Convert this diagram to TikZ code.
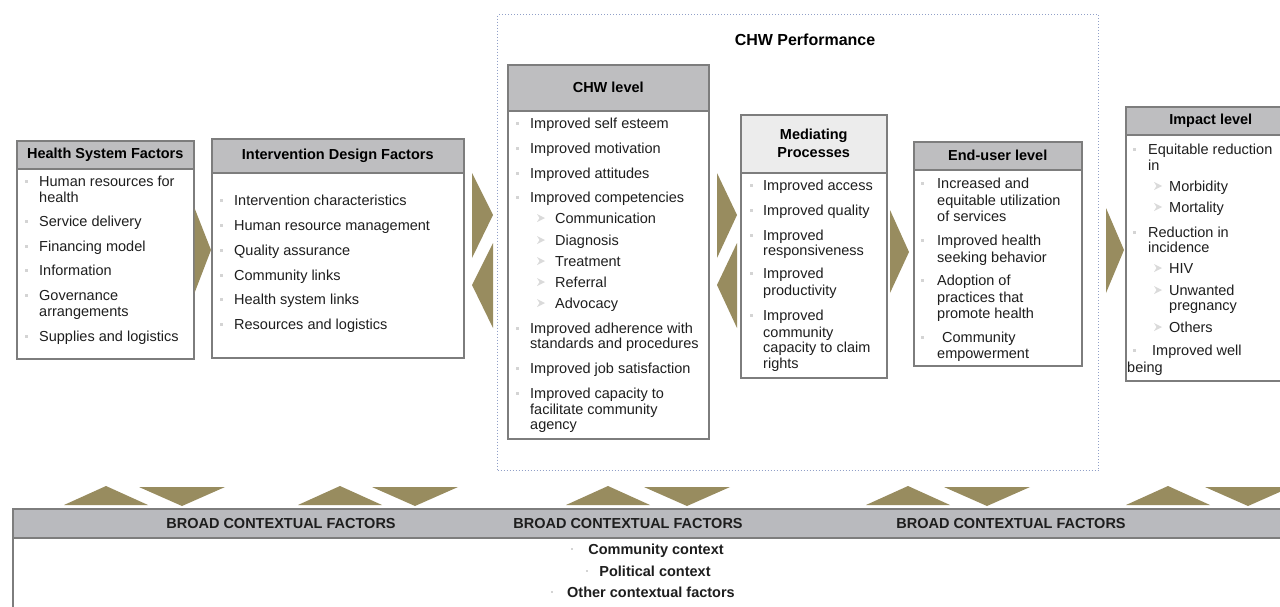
\documentclass[tikz,border=0pt]{standalone}
\usepackage{fontspec}
\setmainfont{Liberation Sans}
\definecolor{chevgold}{RGB}{152,140,95}
\definecolor{headgrey}{RGB}{190,190,192}
\definecolor{paleheadgrey}{RGB}{236,236,236}
\definecolor{bandgrey}{RGB}{185,186,190}
\definecolor{framegrey}{RGB}{125,125,125}
\definecolor{dotgrey}{RGB}{212,212,212}
\definecolor{perfblue}{RGB}{145,160,200}
\definecolor{txtgrey}{RGB}{30,30,30}
\newcommand\bodyfont{\fontsize{14.5}{17}\selectfont}

\tikzset{
  panel/.style={draw=framegrey, line width=1.5pt, fill=white, anchor=north west, inner sep=0pt},
  head/.style={panel, fill=headgrey, font=\bodyfont\bfseries, text=black},
  itemtxt/.style={anchor=base west, yshift=-5pt, inner sep=0pt, font=\bodyfont, text=txtgrey},
  ctxtxt/.style={anchor=base, yshift=-5pt, inner sep=0pt, font=\bodyfont\bfseries, text=txtgrey},
  bul/.style={fill=dotgrey, minimum size=3pt, inner sep=0pt},
  subbul/.style={fill=dotgrey!85},
  chev/.style={fill=chevgold},
}

\begin{document}
\begin{tikzpicture}[x=1pt, y=-1pt]
\useasboundingbox (0,0) rectangle (1280,606);
\clip (0,0) rectangle (1280,606);
\fill[white] (0,0) rectangle (1280,606);

\node[draw=perfblue, dotted, line width=1pt, anchor=north west, inner sep=0pt,
  minimum width=601, minimum height=456] (perfbox) at (497,14) {};
\node[font=\fontsize{16}{18}\selectfont\bfseries, inner sep=0pt] (perf) at (805,40) {CHW Performance};

\node[panel, minimum width=177, minimum height=218] (hsf) at (16,140) {};
\node[head, minimum width=177, minimum height=28] (hsfh) at (16,140) {Health System Factors};
\foreach \y/\t [count=\i] in {181/Human resources for, 197/health, 221/Service delivery,
  246/Financing model, 270/Information, 295/Governance, 311/arrangements, 336/Supplies and logistics}
  \node[itemtxt] (hsf-\i) at (39,\y) {\t};
\foreach \y in {181,221,246,270,295,336}
  \node[bul] (hsfb-\y) at (26,\y) {};

\node[panel, minimum width=252, minimum height=219] (idf) at (211,138) {};
\node[head, minimum width=252, minimum height=34] (idfh) at (211,138) {Intervention Design Factors};
\foreach \y/\t [count=\i] in {200/Intervention characteristics, 225/Human resource management,
  250/Quality assurance, 275/Community links, 299/Health system links, 324/Resources and logistics}
  \node[itemtxt] (idf-\i) at (234,\y) {\t};
\foreach \y in {200,225,250,275,299,324}
  \node[bul] (idfb-\y) at (221,\y) {};

\node[panel, minimum width=201, minimum height=374] (chw) at (507,64) {};
\node[head, minimum width=201, minimum height=46] (chwh) at (507,64) {CHW level};
\foreach \y/\t [count=\i] in {123/Improved self esteem, 148/Improved motivation, 173/Improved attitudes,
  197/Improved competencies, 328/Improved adherence with, 343/standards and procedures,
  368/Improved job satisfaction, 393/Improved capacity to, 409/facilitate community, 424/agency}
  \node[itemtxt] (chw-\i) at (530,\y) {\t};
\foreach \y/\t [count=\i] in {218/Communication, 240/Diagnosis, 261/Treatment, 282/Referral, 303/Advocacy}
  \node[itemtxt] (chws-\i) at (555,\y) {\t};
\foreach \y in {123,148,173,197,328,368,393}
  \node[bul] (chwb-\y) at (517,\y) {};
\foreach \y in {218,240,261,282,303}
  \fill[subbul] (537,\y-4) -- (545,\y) -- (537,\y+4) -- (539.5,\y) -- cycle;

\node[panel, minimum width=146, minimum height=263] (med) at (740,114) {};
\node[head, fill=paleheadgrey, align=center, font=\fontsize{14.5}{18}\selectfont\bfseries,
  minimum width=146, minimum height=58] (medh) at (740,114) {Mediating\\Processes};
\foreach \y/\t [count=\i] in {185/Improved access, 210/Improved quality, 235/Improved, 250/responsiveness,
  273/Improved, 290/productivity, 315/Improved, 332/community, 347/capacity to claim, 363/rights}
  \node[itemtxt] (med-\i) at (763,\y) {\t};
\foreach \y in {185,210,235,273,315}
  \node[bul] (medb-\y) at (751,\y) {};

\node[panel, minimum width=168, minimum height=224] (end) at (913,141) {};
\node[head, minimum width=168, minimum height=28] (endh) at (913,141) {End-user level};
\foreach \x/\y/\t [count=\i] in {937/183/Increased and, 937/200/equitable utilization, 937/216/of services,
  937/240/Improved health, 937/257/seeking behavior, 937/280/Adoption of, 937/297/practices that,
  937/313/promote health, 942/337/Community, 937/353/empowerment}
  \node[itemtxt] (end-\i) at (\x,\y) {\t};
\foreach \y in {183,240,280,337}
  \node[bul] (endb-\y) at (922,\y) {};

\node[panel, minimum width=170, minimum height=274] (imp) at (1125,106) {};
\node[head, minimum width=170, minimum height=28] (imph) at (1125,106) {Impact level};
\foreach \x/\y/\t [count=\i] in {1148/149/Equitable reduction, 1148/165/in, 1148/232/Reduction in,
  1148/247/incidence, 1152/350/Improved well, 1127/367/being}
  \node[itemtxt] (imp-\i) at (\x,\y) {\t};
\foreach \y/\t [count=\i] in {186/Morbidity, 207/Mortality, 268/HIV, 290/Unwanted, 305/pregnancy, 327/Others}
  \node[itemtxt] (imps-\i) at (1169,\y) {\t};
\foreach \y in {149,232,350}
  \node[bul] (impb-\y) at (1134,\y) {};
\foreach \y in {186,207,268,290,327}
  \fill[subbul] (1154,\y-4) -- (1162,\y) -- (1154,\y+4) -- (1156.5,\y) -- cycle;

\fill[chev] (hsf.east |- 0,208) -- (idf.west |- 0,250) -- (hsf.east |- 0,293) -- cycle;
\fill[chev] (472,173) -- (493,215) -- (472,258) -- cycle;
\fill[chev] (493,243) -- (472,285) -- (493,328) -- cycle;
\fill[chev] (717,173) -- (737,215) -- (717,258) -- cycle;
\fill[chev] (737,243) -- (717,285) -- (737,328) -- cycle;
\fill[chev] (890,210) -- (909,252) -- (890,293) -- cycle;
\fill[chev] (1106,208) -- (1124,250) -- (1106,293) -- cycle;

\foreach \u/\d in {106/182, 340/415, 608/687, 908/987, 1168/1248} {
  \fill[chev] (\u-42,505) -- (\u,486) -- (\u+42,505) -- cycle;
  \fill[chev] (\d-43,487) -- (\d+43,487) -- (\d,506) -- cycle;
}

\node[panel, minimum width=1290, minimum height=110] (ctx) at (12,508) {};
\node[panel, fill=bandgrey, minimum width=1290, minimum height=29] (band) at (12,508) {};
\foreach \x [count=\i] in {281,628,1011}
  \node[ctxtxt] (band-\i) at (\x,523) {BROAD CONTEXTUAL FACTORS};
\node[ctxtxt] (ctx-1) at (656,549) {Community context};
\node[ctxtxt] (ctx-2) at (655,571) {Political context};
\node[ctxtxt] (ctx-3) at (651,592) {Other contextual factors};
\node[bul, minimum size=2pt] (ctxb-1) at (572,549) {};
\node[bul, minimum size=2pt] (ctxb-2) at (587,571) {};
\node[bul, minimum size=2pt] (ctxb-3) at (552,592) {};
\end{tikzpicture}
\end{document}
